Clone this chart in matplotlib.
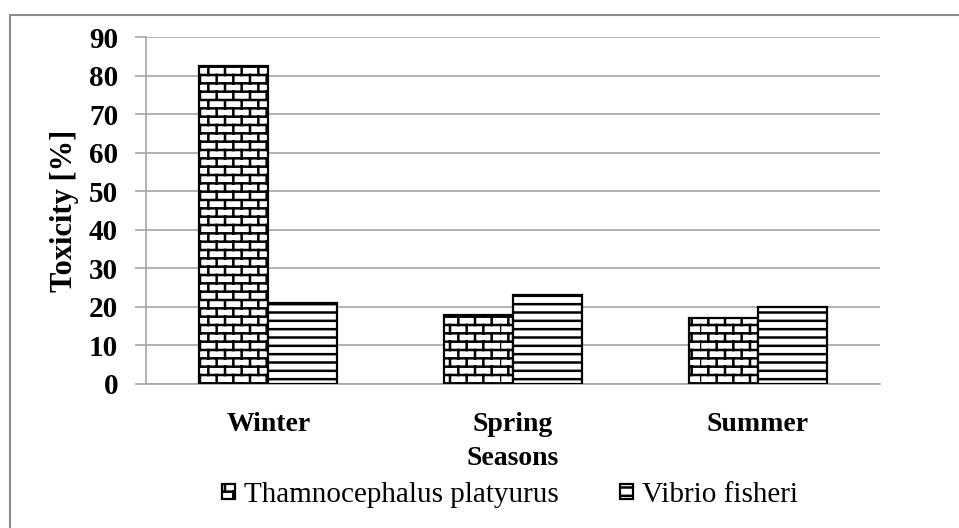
import warnings
import numpy as np
import matplotlib
matplotlib.use("Agg")
import matplotlib.pyplot as plt
from matplotlib import hatch as mhatch
from matplotlib.path import Path
from matplotlib.lines import Line2D

warnings.filterwarnings("ignore")

seasons = ["Winter", "Spring", "Summer"]
thamnocephalus = [82.5, 18, 17]
vibrio = [21, 23, 20]
series_names = ["Thamnocephalus platyurus", "Vibrio fisheri"]
yticks = list(range(0, 100, 10))


class BrickHatch(mhatch.HatchPatternBase):
    # 'b' in the hatch string -> brick wall pattern
    def __init__(self, hatch, density):
        n = hatch.count('b')
        self.nrows = 12 * n
        self.ncols = 6 * n
        nseg = (self.nrows + 1) + self.nrows * self.ncols
        self.num_lines = nseg
        self.num_vertices = nseg * 2 if n else 0

    def set_vertices_and_codes(self, vertices, codes):
        segs = []
        ys = np.linspace(0.0, 1.0, self.nrows + 1)
        for y in ys:
            segs.append(((0.0, y), (1.0, y)))
        for r in range(self.nrows):
            off = 0.5 / self.ncols if r % 2 else 0.0
            for c in range(self.ncols):
                x = c / self.ncols + off
                segs.append(((x, ys[r]), (x, ys[r + 1])))
        segs = np.array(segs).reshape(-1, 2)
        vertices[:] = segs
        codes[0::2] = Path.MOVETO
        codes[1::2] = Path.LINETO


mhatch._hatch_types.append(BrickHatch)

plt.rcParams['font.family'] = ['Liberation Serif', 'DejaVu Serif']
plt.rcParams['hatch.linewidth'] = 1.8

fig = plt.figure(figsize=(9.59, 5.28), dpi=100)
ax = fig.add_axes([146 / 959, 1 - 384 / 528, (880 - 146) / 959, (384 - 37) / 528])

x = np.arange(len(seasons))
w = 0.282
ax.bar(x - w / 2, thamnocephalus, w, color='white', edgecolor='black',
       linewidth=1.6, hatch='b', zorder=3, label=series_names[0])
ax.bar(x + w / 2, vibrio, w, color='white', edgecolor='black',
       linewidth=1.6, hatch='--', zorder=3, label=series_names[1])

ax.set_xlim(-0.5, 2.5)
ax.set_ylim(0, 90)
ax.set_yticks(yticks)
ax.yaxis.grid(True, color='#a6a6a6', linewidth=1.2, zorder=0)
for s in ['top', 'right']:
    ax.spines[s].set_visible(False)
for s in ['left', 'bottom']:
    ax.spines[s].set_color('#a6a6a6')
    ax.spines[s].set_linewidth(1.2)
ax.tick_params(axis='y', direction='out', length=8, width=1.2, color='#a6a6a6',
               labelsize=21, pad=12)
ax.tick_params(axis='x', length=0, labelsize=20, pad=20)
ax.set_xticks(x)
ax.set_xticklabels(seasons, fontweight='bold')
for t in ax.get_yticklabels():
    t.set_fontweight('bold')

ax.set_ylabel("Toxicity [%]", fontsize=22, fontweight='bold')
ax.yaxis.set_label_coords(-0.091, 0.5)
ax.set_xlabel("Seasons", fontsize=20, fontweight='bold')
ax.xaxis.set_label_coords(0.5, -0.178)

leg = fig.legend(loc='center', bbox_to_anchor=(0.532, 1 - 495 / 528), ncol=2,
                 frameon=False, fontsize=21, handlelength=0.45, handleheight=0.45,
                 handletextpad=0.3, columnspacing=2.1, borderaxespad=0)

# outer chart border (left and top edges visible)
fig.add_artist(Line2D([10 / 959, 10 / 959], [0, 1 - 15 / 528], color='#8c8c8c',
                      linewidth=1.5, transform=fig.transFigure))
fig.add_artist(Line2D([10 / 959, 1], [1 - 15 / 528, 1 - 15 / 528], color='#8c8c8c',
                      linewidth=1.5, transform=fig.transFigure))

fig.savefig("out.png", dpi=100)
